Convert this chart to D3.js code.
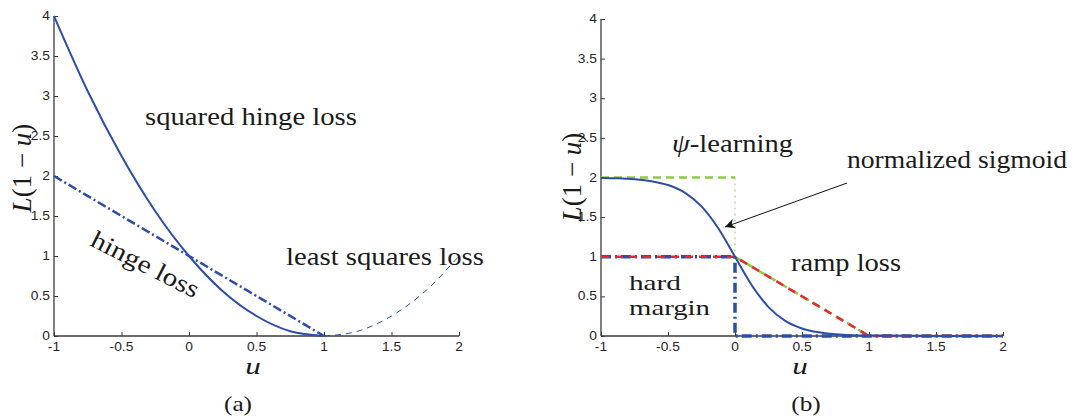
<!DOCTYPE html>
<html>
<head>
<meta charset="utf-8">
<script src="https://cdn.jsdelivr.net/npm/d3@7/dist/d3.min.js"></script>
<style>
    body { margin: 0; background: #fff; }
    svg { display: block; }
    .tick-label { font-family: "Liberation Sans", Arial, sans-serif; font-size: 12px; fill: #262626; }
    .note { font-family: "Liberation Serif", "Times New Roman", serif; font-size: 25px; fill: #1a1a1a; }
</style>
</head>
<body>
<svg id="chart" width="1072" height="417"></svg>
<script>
'use strict';

// values
var xTicks = [-1, -0.5, 0, 0.5, 1, 1.5, 2];
var yTicks = [0, 0.5, 1, 1.5, 2, 2.5, 3, 3.5, 4];

// panel (a)
var sqHingeU = [-1, -0.75, -0.5, -0.25, 0, 0.25, 0.5, 0.75, 1];
var sqHingeL = [4, 3.06, 2.25, 1.56, 1, 0.56, 0.25, 0.06, 0];
var lsqU = [1, 1.25, 1.5, 1.75, 2];
var lsqL = [0, 0.06, 0.25, 0.56, 1];
var hingeU = [-1, 1];
var hingeL = [2, 0];

// panel (b)
var sigU = [-1, -0.875, -0.75, -0.625, -0.5, -0.375, -0.25, -0.125, 0, 0.125, 0.25, 0.375, 0.5, 0.625, 0.75, 0.875, 1, 1.5, 2];
var sigL = [1.995, 1.99, 1.978, 1.954, 1.905, 1.81, 1.635, 1.359, 1, 0.641, 0.365, 0.191, 0.095, 0.046, 0.022, 0.01, 0.005, 0, 0];
var psiU = [-1, 0, 0, 1, 2];
var psiL = [2, 2, 1, 0, 0];
var rampU = [-1, 0, 1, 2];
var rampL = [1, 1, 0, 0];
var hardU = [-1, 0, 0, 2];
var hardL = [1, 1, 0, 0];

var BLUE = '#2c4ea8';
var RED = '#e8282c';
var GREEN = '#8dcb3f';
var AXIS = '#3a3a3a';
var NOTE_SX = 1.15; // the printed figure is a bit wider than the fonts
var TICK_SX = 1.15;

var svg = d3.select('#chart');
var fmt = function(d) { return d3.format('~g')(d).replace('\u2212', '-'); };

function zip(us, ls) {
    return us.map(function(u, i) { return [u, ls[i]]; });
}

// text drawn at (x,y), stretched horizontally round its anchor
function stretched(parent, x, y, sx, rot) {
    var tr = 'translate(' + x + ',' + y + ')';
    if (rot) tr += ' rotate(' + rot + ')';
    return parent.append('text').attr('transform', tr + ' scale(' + sx + ',1)');
}

function makePanel(left, right, top, bottom) {
    var p = {};
    p.x = d3.scaleLinear().domain([-1, 2]).range([left, right]);
    p.y = d3.scaleLinear().domain([0, 4]).range([bottom, top]);
    p.g = svg.append('g');

    // MATLAB style inward ticks, left and bottom lines only
    var xAxis = d3.axisBottom(p.x).tickValues(xTicks).tickSize(-4).tickFormat('');
    var yAxis = d3.axisLeft(p.y).tickValues(yTicks).tickSize(-4).tickFormat('');

    var gx = p.g.append('g').attr('transform', 'translate(0,' + bottom + ')').call(xAxis);
    var gy = p.g.append('g').attr('transform', 'translate(' + left + ',0)').call(yAxis);
    [gx, gy].forEach(function(a) {
        a.select('.domain').attr('stroke', AXIS).attr('stroke-width', 1.3);
        a.selectAll('.tick line').attr('stroke', AXIS);
        a.selectAll('.tick text').remove();
    });
    gx.select('.domain').attr('d', 'M' + left + ',0H' + right);
    gy.select('.domain').attr('d', 'M0,' + bottom + 'V' + top);

    xTicks.forEach(function(t) {
        stretched(p.g, p.x(t), bottom + 15, TICK_SX)
            .attr('class', 'tick-label').attr('text-anchor', 'middle').text(fmt(t));
    });
    yTicks.forEach(function(t) {
        stretched(p.g, left - 4, p.y(t) + 4, TICK_SX)
            .attr('class', 'tick-label').attr('text-anchor', 'end').text(fmt(t));
    });
    return p;
}

function plot(p, pts, style, curve) {
    var line = d3.line()
        .x(function(d) { return p.x(d[0]); })
        .y(function(d) { return p.y(d[1]); });
    if (curve) line.curve(curve);
    p.g.append('path')
        .attr('d', line(pts))
        .attr('fill', 'none')
        .attr('stroke', style.color)
        .attr('stroke-width', style.width)
        .attr('stroke-dasharray', style.dash || null)
        .attr('stroke-linecap', 'butt');
}

// a note stretched so it spans `width` pixels like the printed one
function note(x, y, parts, width, rot, size) {
    var t = stretched(svg, x, y, 1, rot).attr('class', 'note');
    if (size) t.style('font-size', size + 'px');
    parts.forEach(function(s) {
        var ts = t.append('tspan').text(s.replace(/^_/, ''));
        if (s.charAt(0) === '_') ts.style('font-style', 'italic');
    });
    var sx = width ? width / t.node().getComputedTextLength() : NOTE_SX;
    t.attr('transform', t.attr('transform').replace('scale(1,1)', 'scale(' + sx + ',1)'));
    return t;
}

function yLabel(x, y) {
    var t = svg.append('text').attr('class', 'note')
        .attr('text-anchor', 'middle')
        .attr('transform', 'translate(' + x + ',' + y + ') rotate(-90)')
        .style('font-size', '27px');
    t.append('tspan').style('font-style', 'italic').text('L');
    t.append('tspan').text('(1 \u2212 ');
    t.append('tspan').style('font-style', 'italic').text('u');
    t.append('tspan').text(')');
}

function xLabel(x, y) {
    stretched(svg, x, y, 1.3).attr('class', 'note')
        .attr('text-anchor', 'middle')
        .style('font-style', 'italic')
        .style('font-size', '24px')
        .text('u');
}

function caption(x, y, txt) {
    stretched(svg, x, y, NOTE_SX).attr('class', 'note')
        .attr('text-anchor', 'middle').style('font-size', '22px').text(txt);
}

/***** panel (a) *****/
var pa = makePanel(54, 459, 16, 336);
plot(pa, zip(lsqU, lsqL), {color: BLUE, width: 1, dash: '6,5'}, d3.curveMonotoneX);
plot(pa, zip(hingeU, hingeL), {color: BLUE, width: 2.5, dash: '9,3,2,3'});
plot(pa, zip(sqHingeU, sqHingeL), {color: BLUE, width: 2}, d3.curveMonotoneX);

yLabel(31, 168);
xLabel(253, 374);
caption(238, 411, '(a)');

note(145, 125, ['squared hinge loss'], 212);
note(89, 245, ['hinge loss'], 118, 27);
note(286, 265, ['least squares loss'], 198);

/***** panel (b) *****/
var pb = makePanel(601, 1003, 19, 336);

// psi-learning: dashed flat parts, thin dotted jump at u = 0
var psiPts = zip(psiU, psiL);
plot(pb, psiPts.slice(0, 2), {color: GREEN, width: 2.5, dash: '8,5'});
plot(pb, psiPts.slice(1, 3), {color: GREEN, width: 1, dash: '2,4'});
plot(pb, psiPts.slice(2), {color: GREEN, width: 2.5, dash: '8,5'});

plot(pb, zip(hardU, hardL), {color: BLUE, width: 3.5, dash: '10,4,2,4'});
plot(pb, zip(rampU, rampL), {color: RED, width: 2.5, dash: '8,6'});
plot(pb, zip(sigU, sigL), {color: BLUE, width: 2}, d3.curveMonotoneX);

yLabel(581, 177);
xLabel(800, 374);
caption(806, 411, '(b)');

note(672, 152, ['_\u03c8', '-learning'], 121);
note(847, 168, ['normalized sigmoid'], 220);
note(791, 271, ['ramp loss'], 110);
note(629, 289.5, ['hard'], 52, 0, 22);
note(629, 314.5, ['margin'], 81, 0, 22);

// arrow to the sigmoid
svg.append('defs').append('marker')
    .attr('id', 'head')
    .attr('viewBox', '0 0 10 10')
    .attr('refX', 10).attr('refY', 5)
    .attr('markerWidth', 13).attr('markerHeight', 10)
    .attr('markerUnits', 'userSpaceOnUse')
    .attr('orient', 'auto')
    .append('path').attr('d', 'M0,0L10,5L0,10L3,5Z').attr('fill', '#111');
svg.append('line')
    .attr('x1', 847).attr('y1', 183)
    .attr('x2', 725).attr('y2', 227)
    .attr('stroke', '#111').attr('stroke-width', 1)
    .attr('marker-end', 'url(#head)');
</script>
</body>
</html>
